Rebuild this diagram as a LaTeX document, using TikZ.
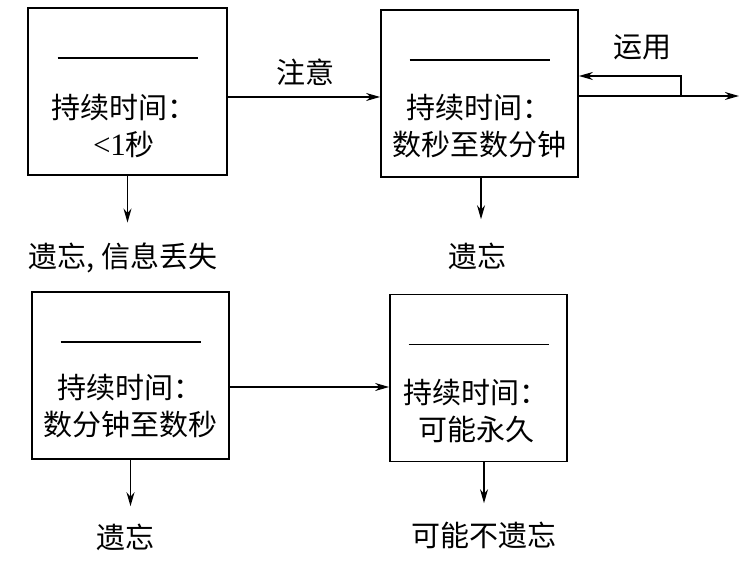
\documentclass[tikz,border=0pt]{standalone}
\usepackage{fontspec}
\newfontfamily\cjk{Noto Sans CJK SC}
\newfontfamily\lat{Liberation Serif}
\usetikzlibrary{positioning,arrows.meta}

\begin{document}
\begin{tikzpicture}[x=0.5pt,y=-0.5pt,
    store/.style={draw,line width=0.9pt,minimum height=83.5pt,inner sep=0pt},
    txt/.style={font=\cjk\fontsize{14.5}{18.5}\selectfont,align=center,inner sep=0pt},
    flow/.style={-{Stealth[length=7pt,width=4pt]},line width=0.65pt}]
  \useasboundingbox (0,0) rectangle (747,565);

  % the four stores
  \node[store,minimum width=99.5pt] (sensory) at (127.5,91.5) {};
  \node[store,minimum width=98.5pt] (short) at (479.5,93.5) {};
  \node[store,minimum width=98.5pt] (middle) at (130.5,375.5) {};
  \node[store,minimum width=88.5pt] (long) at (478.5,378) {};
  \foreach \b in {sensory,short,middle,long} {
    \draw[line width=0.8pt] ([shift={(-70,51)}]\b.north) -- ++(140,0);
  }
  \node[txt] (sensoryText) at (124,126) {持续时间：\\{\lat\fontsize{15.5}{18.5}\selectfont<1}秒};
  \node[txt] (shortText) at (479,126) {持续时间：\\数秒至数分钟};
  \node[txt] (middleText) at (130,406) {持续时间：\\数分钟至数秒};
  \node[txt] (longText) at (476,411) {持续时间：\\可能永久};

  % outcomes
  \node[txt] (lostA) at (123,258) {遗忘, 信息丢失};
  \node[txt] (lostB) at (477,256) {遗忘};
  \node[txt] (lostC) at (125,537) {遗忘};
  \node[txt] (kept) at (484,535) {可能不遗忘};

  % attention
  \path (sensory.east) ++(0,5.5) coordinate (attn);
  \draw[flow] (attn) -- (attn -| short.west);
  \node[txt] (attnText) at (305,72) {注意};

  % rehearsal loop
  \path (short.east) ++(0,2.5) coordinate (rehOut) ++(102,0) coordinate (rehTurn);
  \path (short.east) ++(0,-17.5) coordinate (rehIn);
  \draw[flow] (rehOut) -- ++(160,0) coordinate (rehEnd);
  \draw[flow] (rehTurn) |- (rehIn);
  \node[txt] (rehText) at (642,47) {运用};

  \path (middle.east) ++(0,11.5) coordinate (pass);
  \draw[flow] (pass) -- (pass -| long.west);

  % forgetting
  \draw[flow,shorten >=10pt] (sensory.south) -- (sensory.south |- lostA.north);
  \draw[flow,shorten >=11.5pt] ([xshift=0.75pt]short.south) -- ([xshift=0.75pt]short.south |- lostB.north);
  \draw[flow,shorten >=8.5pt] (middle.south) -- (middle.south |- lostC.north);
  \draw[flow,shorten >=9pt] ([xshift=2.75pt]long.south) -- ([xshift=2.75pt]long.south |- kept.north);
\end{tikzpicture}
\end{document}
